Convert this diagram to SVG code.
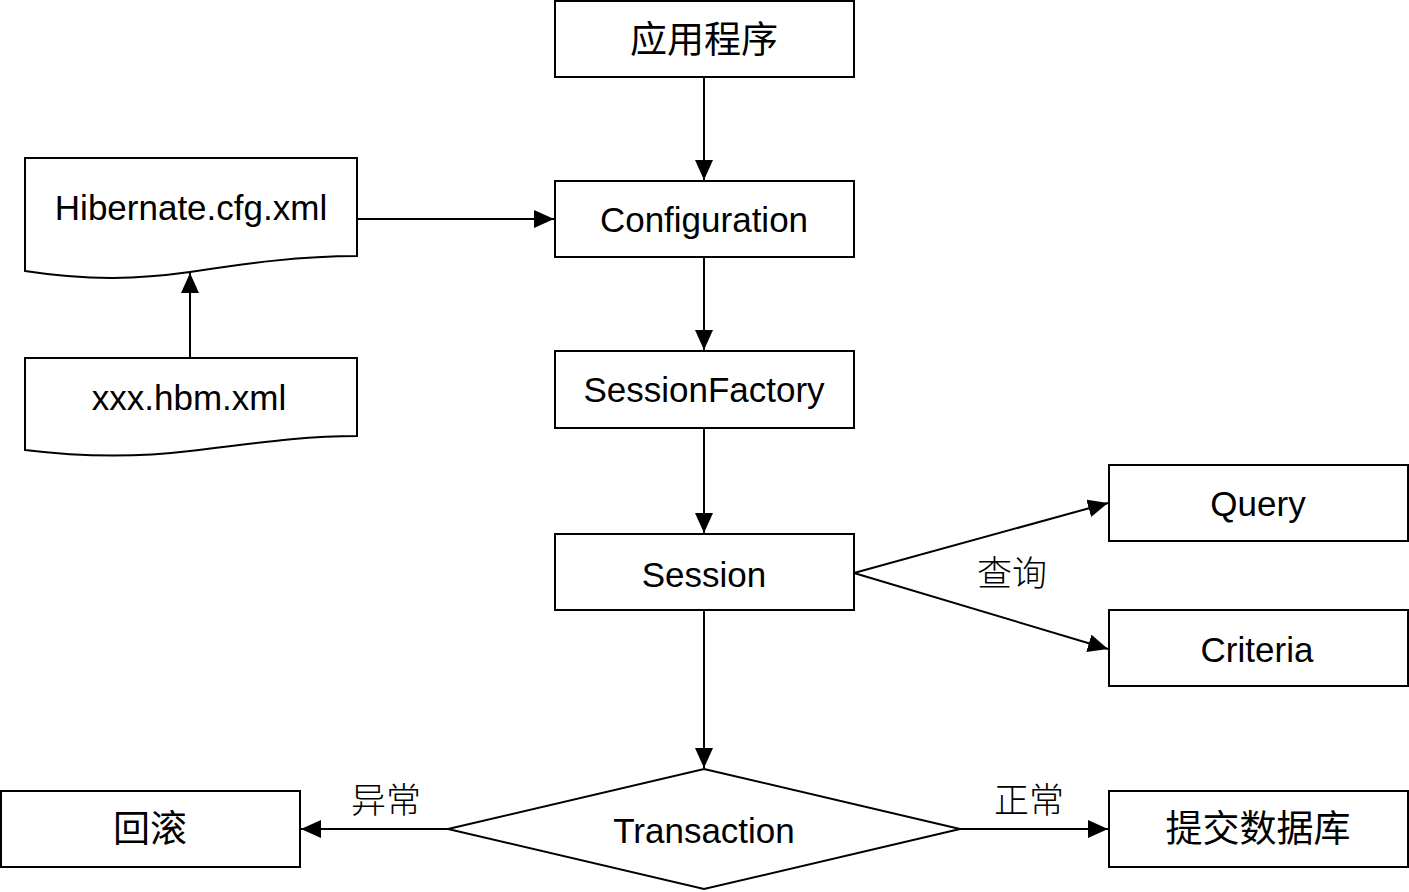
<svg xmlns="http://www.w3.org/2000/svg" width="1409" height="892" viewBox="0 0 1409 892">
<style>
.box{fill:#fff;stroke:#000;stroke-width:2}
.ln{fill:none;stroke:#000;stroke-width:2;marker-end:url(#ah)}
.lat{font-family:"Liberation Sans",Arial,sans-serif;font-size:35px;text-anchor:middle;fill:#000}
.cjk{font-family:"Noto Sans CJK SC",sans-serif;font-size:37px;text-anchor:middle;fill:#000}
.lbl{font-family:"Noto Sans CJK SC",sans-serif;font-size:35px;font-weight:300;text-anchor:middle;fill:#000}
</style>
<defs>
<marker id="ah" markerUnits="userSpaceOnUse" markerWidth="22" markerHeight="20" refX="20" refY="9" orient="auto">
<path d="M0,0 L20,9 L0,18 Z" fill="#000"/>
</marker>
</defs>
<rect width="1409" height="892" fill="#fff"/>
<g id="connectors">
<line class="ln" x1="704" y1="77" x2="704" y2="180"/>
<line class="ln" x1="357" y1="219" x2="554" y2="219"/>
<line class="ln" x1="190" y1="358" x2="190" y2="273"/>
<line class="ln" x1="704" y1="257" x2="704" y2="350"/>
<line class="ln" x1="704" y1="428" x2="704" y2="533"/>
<line class="ln" x1="854" y1="573" x2="1108" y2="503"/>
<line class="ln" x1="854" y1="573" x2="1108" y2="649"/>
<line class="ln" x1="704" y1="610" x2="704" y2="768"/>
<line class="ln" x1="448" y1="829" x2="301" y2="829"/>
<line class="ln" x1="960" y1="829" x2="1108" y2="829"/>
<text class="lbl" x="1012" y="586">查询</text>
<text class="lbl" x="386" y="813">异常</text>
<text class="lbl" x="1029" y="813">正常</text>
</g>
<g id="app"><rect class="box" x="555" y="1" width="299" height="76"/><text class="cjk" x="704" y="53">应用程序</text></g>
<g id="configuration"><rect class="box" x="555" y="181" width="299" height="76"/><text class="lat" x="704" y="232">Configuration</text></g>
<g id="hibernate"><path class="box" d="M25,158 H357 V256 C300,256 250,263 190,272 C140,279 90,281 25,271 Z"/><text class="lat" x="191" y="220">Hibernate.cfg.xml</text></g>
<g id="hbm"><path class="box" d="M25,358 H357 V436 C300,436 250,444 190,451 C140,457 90,458 25,450 Z"/><text class="lat" x="189" y="410">xxx.hbm.xml</text></g>
<g id="sessionfactory"><rect class="box" x="555" y="351" width="299" height="77"/><text class="lat" x="704" y="402">SessionFactory</text></g>
<g id="session"><rect class="box" x="555" y="534" width="299" height="76"/><text class="lat" x="704" y="587">Session</text></g>
<g id="query"><rect class="box" x="1109" y="465" width="299" height="76"/><text class="lat" x="1258" y="516">Query</text></g>
<g id="criteria"><rect class="box" x="1109" y="610" width="299" height="76"/><text class="lat" x="1257" y="662">Criteria</text></g>
<g id="transaction"><path class="box" d="M704,769 L960,829 L704,889 L448,829 Z"/><text class="lat" x="704" y="843">Transaction</text></g>
<g id="rollback"><rect class="box" x="1" y="791" width="299" height="76"/><text class="cjk" x="150" y="842">回滚</text></g>
<g id="commit"><rect class="box" x="1109" y="791" width="299" height="76"/><text class="cjk" x="1258" y="842">提交数据库</text></g>
</svg>
